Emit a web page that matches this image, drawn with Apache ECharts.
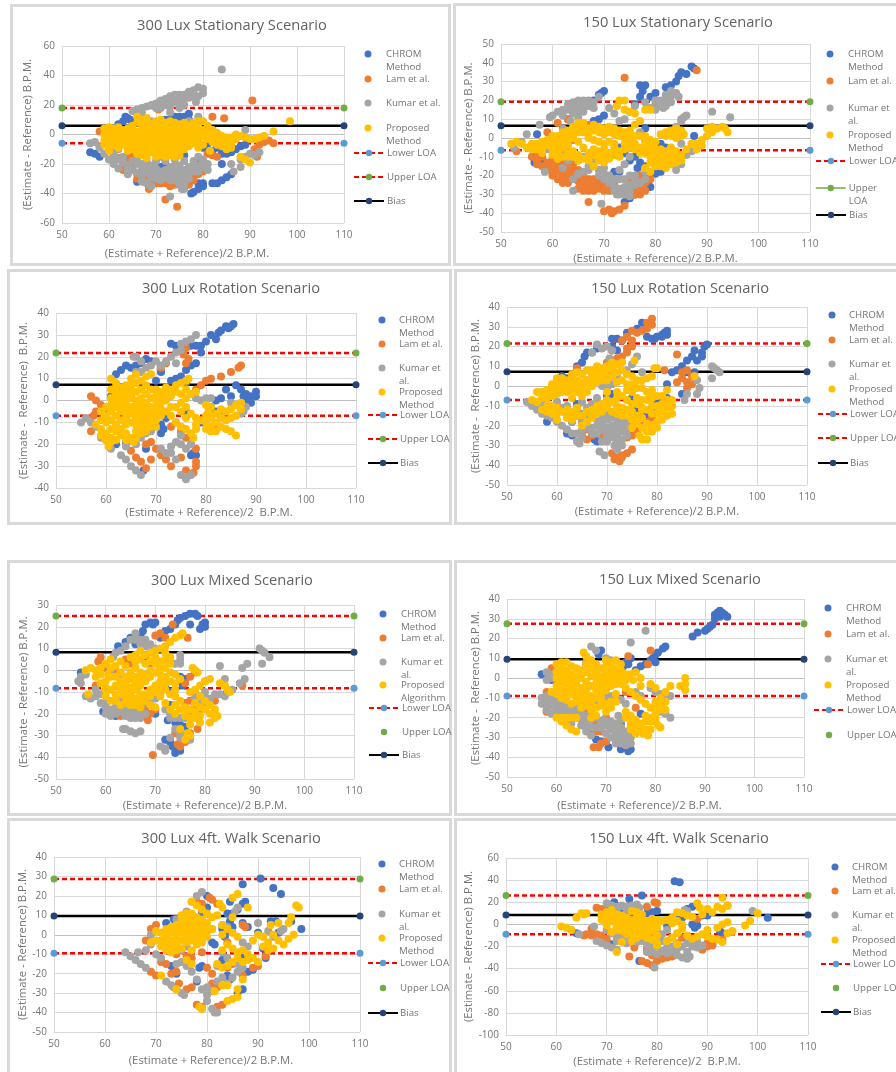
<!DOCTYPE html>
<html>
<head>
<meta charset="utf-8">
<title>Bland-Altman plots</title>
<script src="https://cdn.jsdelivr.net/npm/echarts@6/dist/echarts.min.js"></script>
<style>
  html, body { margin: 0; padding: 0; background: #fff; }
  #chart { width: 896px; height: 1072px; filter: blur(0.5px); }
</style>
</head>
<body>
<div id="chart"></div>
<script>
// values, [(est+ref)/2, est-ref]
const p1Chrom = [[63.5,12],[64,11],[64.5,10],[63,9],[62,7],[56,-12],[57,-13],[58,-15],[77.5,-40],[78,-39],[79,-37],[80,-35],[79,-33],[80,-33],[82,-33],[83,-33],[84,-31],[85,-29],[86,-27],[84,-20],[82,3],[88,-8],[89,-7],[87,-10],[86,-12],[85,-13],[84,-13],[83,-9],[74,12],[75,12],[76,12],[77,14],[73,10],[72,10],[71,-22],[72,-20],[66,-32],[65,-20],[76,-14],[76,-5],[79,-18],[78,-22],[81,-6],[80,-9],[75,10],[74,10],[76,9],[77,10],[78,8],[79,9],[81,-10],[82,-11],[84,-9],[85,-9]];
const p1Lam = [[90.5,23],[82,12],[84.5,11],[70.5,17],[58,2],[58,-8],[72,-44],[74.5,-49],[68.5,-37],[66,-30],[67,-31],[68,-32],[69,-33],[70,-33],[71,-33],[72,-33],[73,-35],[74,-34],[75,-33],[77,-34],[78,-31],[62,-16],[64,-18],[65,-20],[64,-14],[65,-12],[63,-20],[82,-14],[83,-15],[81,-13],[80,-25],[92,-7],[93,-5],[94,-4],[95,-6],[91,-10],[91.5,-15],[75,-12],[78,-3],[63,-17],[64,-22],[65,-16],[66,-19],[63,-24],[65,-23],[68,-29],[69,-30],[70,-30],[71,-31],[72,-31],[74,-31],[66,-27],[79,-27],[78,-28]];
const p1Kumar = [[84,44],[65,16],[66,17],[67,18],[68,19],[69,20],[70,21],[71,23],[72,24],[73,26],[74,27],[75,27],[76,27],[74,22],[75,24],[76,20],[75,18],[77,29],[78,30],[79,32],[80,31],[80,28],[79,26],[78.5,22],[71,18],[73,15],[77,9],[79,12],[68,11],[69,9],[56,-6],[57,-5],[58,-9],[59,-13],[60,-17],[61,-20],[62,-23],[64,-27],[63,-15],[61,-12],[62,-10],[66,-16],[65,-24],[66,-26],[67,-28],[68,-33],[69,-35],[69,-25],[70,-27],[71,-28],[72,-29],[73,-42],[72,-24],[74,-26],[75,-30],[75.5,-37],[76,-33],[76,-24],[77,-22],[78,-25],[79,-21],[80,-22],[81,-20],[79,-15],[80,-17],[86,-20],[86.5,-25],[88,-17],[89,-15],[90,-13],[91,-14],[92,-12],[89,3],[88,-22],[71,-15],[66,-20],[68,-22],[64,-21],[60,-10],[61,-15],[62,-17],[63,-19],[64,-24],[65,-18],[67,-20],[67,-24],[68,-26],[68,-18],[69,-21],[70,-18],[70,-23],[71,-25],[72,-18],[73,-22],[73,-27],[73,-31],[74,-21],[74,-31],[75,-21],[75,-26],[76,-28],[77,-26],[77,-30],[78,-20],[79,-25],[80,-19],[81,-24],[71,-31],[70,-30],[69,-29],[67,-32],[76,-37],[75,-34],[78,-18],[76,-18],[74,-17],[72,-15],[72,20],[73,22],[74,25],[75,21],[76,24],[77,25],[78,26],[73,19],[71,20],[70,18],[67,15],[66,14]];
const p1Prop = [[59,4],[60,5],[61,4],[62,5],[63,3],[64,4],[65,6],[66,12],[67,10],[68,8],[69,7],[70,9],[71,10],[72,8],[73,6],[74,5],[75,7],[76,5],[77,6],[78,6],[79,5],[80,9],[81,6],[59,0],[60,0],[61,-1],[62,0],[63,-1],[64,0],[65,1],[66,2],[67,3],[68,3],[69,2],[70,4],[71,5],[72,3],[73,2],[74,3],[75,2],[76,1],[77,1],[78,2],[79,0],[59,-4],[60,-5],[61,-4],[62,-5],[63,-4],[64,-5],[65,-3],[66,-3],[67,-2],[68,-2],[69,-3],[70,-1],[71,-1],[72,-2],[73,-3],[74,-2],[75,-3],[76,-4],[60,-8],[62,-9],[64,-8],[65,-7],[66,-7],[67,-7],[68,-7],[69,-8],[70,-6],[71,-6],[72,-7],[73,-7],[74,-7],[75,-8],[68,-11],[69,-12],[70,-12],[71,-11],[72,-12],[73,-11],[74,-12],[68,-16],[77,-8],[81.5,-11],[88,-15],[89,-17],[90,-19],[93,-1],[92,-2],[91,-3],[90,-3],[89,-2],[88,-1],[87,0],[86,-2],[85,-5],[84,-8],[85,-10],[83,-3],[82,-1],[81,3],[79,-4],[80,-7],[95,2],[98.5,9],[66,8],[67,7],[68,11],[69,6],[70,7],[71,8],[72,6],[73,9],[74,8],[75,4],[76,8],[77,3],[78,8],[79,8],[64,2],[62,2],[60,2],[63,-7],[61,-7],[59,-7],[60,-11],[64,-11],[65,-10],[66,-10],[67,-11],[66,-13],[67,-14],[70,-15],[71,-14],[72,-15],[73,-14],[74,-15],[75,-14],[76,-10],[75,-11],[77,-4],[78,-2],[78,-6],[79,-9],[81,0],[82,3],[83,1],[84,-3],[84,-1],[85,-2],[86,-6],[86,-9],[87,-3],[83,-7],[82,-5],[81,-3],[80,-1],[80,3],[79,9],[77,-1],[74,-10],[76,-7],[61,1],[63,1],[65,-1],[67,0],[69,0],[71,1],[73,0],[75,0],[62,-2],[64,-2],[66,-1],[68,-4],[70,-3],[72,-4],[74,-4],[60,-2],[62,-7],[66,-5],[68,-9],[70,-9],[72,-9]];

const p2Chrom = [[87,38],[87.5,37],[85,35],[86,34],[84.5,33],[84,30],[83,28],[82,27],[82.5,23],[77,28],[78,28],[77.5,25],[77,22],[76,18],[79,22],[80,24],[70,25],[69.5,24],[69,23],[68,20],[67.5,17],[65,13],[63,10],[69,10],[70,12],[68,9],[57,2],[56.5,-13],[58,-12],[64,-20],[65,-18],[72,-18],[73,-18],[74,-34],[75,-32],[76,-30],[79,-26],[76,-10],[77,-13],[78,-15],[76.5,-16],[75,-12],[87.5,1],[81,-3],[82,-5],[81,-18],[80,-19],[78,5],[73,-5],[74,-8]];
const p2Lam = [[88,36],[74,32],[67,-34],[70,-39],[71,-38],[71.5,-40],[72,-39],[73,-38],[74,-36],[53,-7],[56,-10],[57,-14],[58,-15],[59,-17],[60,-20],[61,-22],[62,-24],[63,-23],[60,-16],[62,-19],[57,-9],[65,-23],[66,-24],[66,-28],[67,-26],[68,-28],[69,-27],[70,-28],[71,-25],[67,-22],[69,-23],[64,-17],[63,-13],[61,-10],[75,-26],[76,-27],[77,-30],[76,-22],[77,-20],[78,-24],[78,-19],[61,8],[64,-1],[59,3],[63,10],[67,7],[80,18],[68,5],[57,-12],[58,-10],[59,-13],[60,-12],[61,-15],[61,-18],[62,-13],[63,-17],[63,-20],[64,-14],[64,-20],[65,-17],[65,-27],[66,-20],[67,-28],[68,-25],[69,-25],[70,-25],[70,-22],[71,-28],[68,-22],[72,-25],[77,-26],[78,-28],[76,-30],[75,-23],[78,-22],[79,-22],[63,-24],[62,-21]];
const p2Kumar = [[91,14],[94.5,11],[57.5,7],[59.5,11],[60,12],[61,14],[62,15],[64,-28],[69.5,-35],[52.5,-5],[55,2],[54,-2],[63,18],[64,16],[65,20],[64,13],[65,15],[66,17],[67,20],[68,19],[69,22],[63.5,9],[62,5],[71,16],[72,13],[73,9],[74,10],[75,14],[76,17],[78,19],[79,16],[80,17],[81,20],[82,23],[83,25],[84,24],[84.5,22],[83,19],[81.5,16],[80,15],[84,6],[85,9],[85.5,11],[86,12],[85,10],[86,-9],[87,-7],[85,-3],[58,-5],[60,-7],[62,-8],[63,-12],[62,-16],[58.5,-18],[64,-22],[65,-19],[67,-15],[68,-12],[69,-8],[70,-16],[69,-20],[70,-22],[71,-24],[72,-26],[72.5,-30],[73,-27],[74,-30],[75,-28],[74,-22],[75,-20],[76,-25],[73,-17],[74,-14],[75,-10],[76,-20],[78,-22],[84,-17],[85,-14],[79,-4],[78,-1],[77,3],[66,-10],[65,-12],[64,-10],[67,-9],[66,-18],[67,-17],[68,-15],[69,-17],[70,-19],[71,-20],[72,-22],[73,-22],[74,-26],[72,-28],[73,-30],[74,-27],[75,-25],[75,-31],[76,-22],[77,-24],[78,-18],[65,18],[66,20],[67,17],[68,16],[64,19],[63,15],[62,12],[65,11],[66,14],[61,-6],[59,-6],[83,22],[82,20],[81,17],[80,20],[82,17]];
const p2Prop = [[73,20],[74,20],[72.5,17],[74,15],[75,14],[76,13],[78,15],[79,15],[77,9],[76,7],[75,4],[52,-3],[53,-2],[54,-3],[55,-5],[56,-6],[57,-6],[58,-5],[59,-4],[60,-3],[61,-2],[62,-1],[63,1],[64,3],[65,6],[66,8],[67,5],[68,4],[69,3],[70,2],[71,3],[72,2],[73,1],[74,3],[61,-7],[62,-5],[63,-4],[64,-7],[65,-2],[66,3],[67,0],[68,-1],[69,-2],[70,-3],[71,-2],[72,-3],[64,0],[65,-9],[66,-5],[67,-8],[68,-6],[69,-7],[70,-6],[71,-8],[68,-15],[69,-12],[70,-10],[72,-5],[73,-7],[74,-3],[75,-1],[77,-5],[78,-8],[79,-10],[80,-10],[81,-12],[82,-13],[83,-11],[84,-10],[85,-9],[78,-16],[79,-18],[80,-15],[81,-9],[82,-7],[83,-5],[81,2],[82,3],[83,4],[84,5],[85,4],[85.5,2],[84,3],[86,-6],[87,-3],[88,-3],[89,-1],[90,1],[91,3],[92,5],[93,6],[93.5,5],[94,3],[90,5],[91,6],[88,-6],[89,-4],[58,-8],[60,-9],[61,-11],[62,-10],[63,-8],[63,-10],[64,-10],[65,-12],[66,-11],[67,-12],[68,-9],[69,-10],[70,-13],[71,-11],[72,-9],[73,-10],[74,-6],[75,-5],[76,-3],[65,3],[66,5],[67,2],[68,7],[69,6],[70,5],[71,6],[72,5],[73,4],[74,0],[75,1],[76,1],[77,1],[78,-2],[79,-4],[80,-6],[81,-6],[82,-10],[83,-8],[84,-7],[78,-5],[79,-7],[80,-13],[79,-13],[77,-8],[76,-6],[82,-16],[81,-15],[83,-14],[84,-13],[85,-12],[80,-2],[79,-1],[78,1],[59,-1],[60,1],[61,1],[62,3],[63,4],[64,6],[65,8],[63,-1],[61,-4],[60,-6],[57,-3],[56,-3],[58,-2],[62,-4],[85,1],[84,0],[83,1],[82,1]];

const p3Chrom = [[73,26],[74,25],[75,24],[76,25],[77,25],[78,25],[79,25],[79,22],[80,27],[81,30],[82,28],[82.5,31],[83,32],[84,34],[84.5,33],[85,34],[85.5,35],[62,12],[63,14],[64,16],[65,15],[66,16],[67,17],[68,19],[69,18],[71,13],[70,9],[73,9],[74,10],[75,11],[76,14],[77,16],[78,17],[76,8],[86,7],[87,5],[88,3],[87.5,2],[88.5,0],[89,2],[90,4],[90,2],[89,-1],[85,2],[84,5],[83,1],[82,0],[81,-3],[82,-5],[79,-10],[71,-15],[71,-11],[72,-8],[71.5,-13],[70,-7],[77.5,-24],[78,-25],[77,-25],[76,-5],[68,-22],[67.5,-32],[62,-20],[64,-19],[61,2],[72,3]];
const p3Lam = [[87,16],[86.5,15],[85,13],[83,11],[81,10],[80,9],[79,7],[78,5],[77,3],[76,24],[76.5,19],[76,17],[75.5,21],[73,-30],[72,-27],[71,-25],[70,-22],[69,-19],[71,15],[72,17],[57,2],[58,0],[59,-2],[60,-4],[58,-5],[57.5,-7],[57,-14],[61,1],[65,-23],[66,-26],[67,-28],[68,-31],[69,-27],[68,-20],[75,-26],[78,-28],[78,-30],[77.5,-33],[76,-32],[74,-10],[73,-12],[75,-14],[76,-17],[77,-20],[78,-22],[81,-14],[82,-12],[64,-7],[65,2]];
const p3Kumar = [[78,30],[77,28],[76,27],[75,26],[75,23],[74,22],[74,17],[73,20],[72,18],[71,16],[70,18],[69,16],[68,15],[66,20],[65.5,20],[67,18],[66,13],[67,13],[55,-10],[56,-8],[57,-10],[58,-12],[59,-17],[60,-18],[61,-22],[63,-25],[64,-27],[65,-30],[66,-32],[67,-34],[64,-21],[65,-18],[66,-20],[68,-15],[69,-14],[67,-17],[71,-22],[72,-24],[73,-24],[74,-27],[73,-21],[74,-19],[75,-16],[75,-20],[76,-22],[77,-20],[75,-34],[76,-35],[76,-36],[77,-34],[78,1],[79,0],[80,1],[81,1],[85,-1],[86,-2],[87,-6],[88,-3],[87.5,-5],[83,-7]];
const p3Prop = [[61,10],[62,8],[63,6],[64,4],[65,10],[66,12],[67,9],[68,11],[69,12],[68,7],[67,5],[58,-11],[59,-9],[60,-7],[61,-5],[62,-3],[62,3],[63,0],[64,-2],[65,1],[66,0],[67,-2],[68,-4],[69,1],[70,2],[71,4],[72,3],[73,5],[74,7],[75,8],[76,9],[76.5,10],[60,-15],[60,-18],[60.5,-21],[61,-13],[62,-11],[63,-9],[64,-8],[65,-6],[66,-5],[67,-8],[68,-9],[69,-6],[70,-3],[71,-1],[62,-14],[63,-13],[64,-15],[65,-17],[65.5,-19],[66,-11],[67,-13],[68,-14],[72,-5],[73,-7],[74,-10],[75,-12],[76,-13],[77,-15],[77.5,-17],[78,-13],[74,-3],[75,-1],[76,1],[77,3],[78,4],[80,-2],[80.5,-5],[81,-8],[82,-10],[83,-12],[84,-13],[85,-14],[86,-16],[82,-6],[83,-8],[84,-5],[85,-4],[86,-2],[87,-1],[87,-4],[80,-10],[81,-12],[82,-14],[60,-10],[63,3],[64,7],[59,-5],[60,-3],[61,-9],[61,-2],[61,1],[61,5],[62,-7],[62,0],[62,6],[63,-5],[63,-16],[63,-2],[64,-11],[64,-5],[64,1],[65,-10],[65,-3],[65,4],[65,7],[66,-8],[66,-14],[66,-2],[66,4],[66,8],[67,-11],[67,-5],[67,1],[68,-12],[68,-7],[68,-1],[68,3],[69,-9],[69,-3],[69,5],[70,-6],[70,0],[70,5],[71,-4],[71,1],[72,0],[73,2],[59,-13],[59,-16],[61,-17],[61,-19],[62,-18],[64,-18],[66,-17],[67,-15],[69,-12],[70,-9],[70,-12],[71,-7],[72,6],[73,-3],[74,4],[75,3],[76,5],[75,-5],[76,-3],[76,-8],[77,-6],[78,-8],[78,-11],[79,-9],[80,-7],[81,-3],[83,-4],[84,-9],[85,-8],[86,-7],[81,-14],[80,-13]];

const p4Chrom = [[77,32],[78,31],[74,27],[76,29],[79,24],[78,25],[79.5,24],[80,25],[81,26],[82,26],[82,28],[81.5,27],[81,25],[72,24],[71,24],[73,23],[71,20],[72,18],[65,12],[64,10],[65.5,15],[66,17],[67,17],[68,19],[61,5],[62,4],[63,4],[84,8],[83,7],[85,10],[86,13],[87,15],[87.5,18],[88,13],[89,17],[89.5,20],[90,21],[89,15],[86,7],[87.5,7],[85,-4],[82,1],[70,-5],[71,-4],[75,-6],[76,-12],[77,-14],[78,-15],[79,-11],[67.5,-27],[68,-28],[62,-24],[63,-25],[63,-18],[58,-18],[66,-14],[64,-9],[80,-7],[82,-6]];
const p4Lam = [[79,34],[78,32],[79,31],[77,28],[78,29],[76,27],[75,28],[74,25],[73,23],[75,23],[75,20],[74,19],[74,17],[73,15],[72,14],[71,18],[70,12],[84,16],[85,7],[86,8],[85,4],[86,2],[87,1],[87,5],[84,2],[86,-1],[81.5,8],[71,-34],[72,-36],[72.5,-38],[73,-36],[74,-34],[75,-32],[71.5,-37],[73,-35],[65,-18],[66,-22],[66,-27],[67,-25],[65,-25],[68,-10],[64,-15],[69,-25],[70,-24],[74,-26],[75,-25],[76,-22],[77,-20],[78,-18],[79,-16],[64,9],[63,5]];
const p4Kumar = [[91,10],[91.5,9],[92,8],[92.5,7],[91,4],[88,3],[88,-4],[88.5,-1],[85.5,-7],[86,-4],[68,21],[69,19],[70,20],[71,18],[67,17],[70.5,14],[75,11],[76,15],[77,7],[74,8],[68.5,-33],[69.5,-35],[54,-8],[55,-10],[56,-12],[57,-14],[58,-15],[59,-16],[60,-18],[61,-20],[62,-22],[63,-24],[64,-28],[64.5,-29],[58,-6],[60,-8],[62,-10],[63,-14],[64,-12],[65,-8],[66,-11],[67,-14],[68,-17],[69,-19],[70,-21],[71,-23],[71.5,-30],[72,-32],[73,-27],[73,-23],[70,-17],[71,-26],[72,-19],[73,-20],[69,-28],[70,-28],[68,-24],[65,-19],[66,-16],[74,-22],[75,-17],[67,-21],[83,-10],[69,0],[70,4],[71,1],[66,3],[66,-21],[67,-24],[68,-20],[69,-16],[70,-14],[71,-16],[72,-16],[72,-22],[72,-25],[71,-20],[72,-28],[70,-25],[69,-22],[73,-17],[74,-25],[74,-18],[75,-20],[73,-30],[64,-24],[65,-22],[65,-26],[63,-18],[62,-14],[61,-11],[60,-12],[59,-12],[57,-9],[56,-8],[65,-14],[67,-9],[68,-6],[70,-1],[69,5],[71,7],[72,5]];
const p4Prop = [[55,-7],[56,-3],[57,-6],[58,-2],[59,-5],[60,-1],[61,1],[60,3],[60,4],[62,0],[63,-2],[64,-3],[65,-2],[64,3],[65,6],[66,8],[67,6],[68,8],[69,9],[70,7],[71,9],[72,11],[73,12],[72,7],[74,6],[75,5],[76,3],[77,3],[78,4],[79,5],[80,9],[64,7],[65,2],[66,0],[57,-12],[58,-10],[59,-14],[60,-17],[60,-14],[62,-12],[63,-13],[64,-15],[65,-20],[66,-13],[67,-12],[68,-14],[69,-9],[70,-7],[71,-8],[72,-10],[73,-15],[74,-12],[75,-9],[76,-6],[77,-7],[78,-3],[79,-2],[80,-5],[81,-9],[82,-11],[82,-15],[83,-14],[81,-17],[80,-18],[79,-20],[78,-23],[77,-27],[76.5,-25],[76,-19],[75,-21],[75,-13],[73,-5],[74,-2],[72,-3],[71,-13],[70,-11],[75.5,13],[79.5,9],[87.5,5],[83,-7],[82,-2],[78,-12],[79,-14],[77,-16],[56,-8],[57,-3],[58,-6],[59,-1],[59,1],[60,-4],[61,-3],[61,4],[62,3],[62,-3],[63,2],[63,6],[63,-6],[64,0],[65,-5],[66,3],[66,-3],[67,3],[67,8],[67,0],[68,5],[68,10],[68,2],[69,6],[69,3],[70,10],[70,3],[71,5],[71,12],[72,2],[73,8],[73,3],[74,1],[75,1],[75,-3],[76,-1],[76,-9],[77,-1],[77,-11],[78,-7],[79,-6],[79,-10],[80,-10],[80,-14],[81,-13],[81,-5],[82,-7],[83,-10],[74,-7],[74,-15],[73,-11],[72,-6],[72,-14],[70,-3],[69,-13],[68,-10],[67,-16],[66,-18],[65,-15],[64,-11],[63,-17],[62,-16],[61,-13],[60,-11],[59,-10],[58,-13],[75,-17],[76,-15],[77,-21],[78,-19],[78,-27],[79,-23],[80,-21],[77,-12]];

const p5Chrom = [[77,26],[78,26],[76,25],[78.5,25],[75,24],[74.5,23],[74,21],[73,19],[72,18],[71,15],[70,22],[69,22],[68,21],[69.5,21],[67.5,18],[67,16],[77,21],[79,19],[80,22],[80,20],[79.5,21],[65,15],[64,13],[62.5,11],[66,12],[55,-1],[68,6],[69,3],[75,-3],[76,-4],[75.5,-7],[59.5,-19],[62,-21],[72,-8],[73,-10],[73,-16],[72.5,-23],[74,-24],[75,-25],[76,-26],[72,-32],[73,-33],[74,-36],[74,-38],[75,-37],[73.5,-35],[84,-11],[70,-20]];
const p5Lam = [[73.5,21],[71,17],[70,16],[72,15],[76.5,15],[58.5,4],[59,6],[69.5,-39],[78,-1],[77,-3],[76,-6],[87.5,-7],[58,-7],[60,1],[62,0],[61,-20],[63,-21],[67,-18],[68,-18],[69,-20],[68.5,-23],[70,-18],[76,-15],[77,-14],[78,-17],[78.5,-27],[77,-29],[76,-33],[75,-35],[74.5,-34],[74,-29],[82,-14],[79,-18],[65,3],[64,5],[66,-20],[67,-21],[68,-21],[77,-20],[76,-18],[78,-13],[79,-14]];
const p5Kumar = [[91,10],[91.5,9],[92,8],[93,6],[91.5,3],[87.5,1],[88.5,3],[83,2],[84,-4],[87,-6],[88,-4],[84,-12],[85.5,-9],[82,-11],[83,-11],[66,17],[65,14],[68,14],[69,12],[70,10],[63,9],[62,8],[61.5,6],[75,7],[75,5],[74,3],[75,3],[55,-3],[54.5,-5],[55,-6],[56,-2],[56,-12],[57,-13],[58,-9],[59,-11],[60,-15],[60,-20],[61,-21],[62,-17],[63,-14],[64,-15],[65,-20],[66,-22],[64,-27],[65,-28],[66,-29],[67,-28],[63.5,-27],[67,-19],[68,-15],[69,-14],[70,-13],[71,-11],[71,-35],[72,-36],[72,-37],[73,-31],[75,-29],[74,-22],[73,-20],[72,-18],[80,-10],[79,-12],[80,-5],[80,-13],[76,-22],[77,-32],[78,-10],[61,0],[63,-2],[60,-17],[61,-18],[62,-20],[63,-19],[64,-18],[65,-22],[66,-19],[67,-22],[68,-20],[65,-17],[64,-21],[58,-12],[59,-15],[63,-11],[75,-22],[74,-27],[75,-31],[73,-22],[78,-13],[80,-17],[79,-15],[81,-13],[64,11],[67,14],[67,12],[69,9],[68,11],[66,14]];
const p5Prop = [[56,0],[57,1],[56.5,-11],[58,0],[59,1],[60,3],[61,5],[60.5,-2],[59,-6],[60,-5],[61,-9],[62,-7],[63,-5],[64,-3],[65,-1],[66,1],[64,2],[65,6],[66,7],[67,9],[68,7],[69,8],[70,9],[71,10],[72,11],[73,13],[74,15],[75,16],[75.5,17],[60,-12],[61,-14],[62,-14],[63,-11],[64,-10],[65,-8],[66,-6],[67,-4],[68,-2],[69,0],[70,3],[71,4],[72,5],[73,6],[72.5,4],[64,-15],[65,-13],[66,-16],[67,-14],[68,-11],[69,-9],[70,-7],[71,-12],[72,-15],[70,-17],[71,-5],[72,-3],[73,-1],[74,-6],[75,-4],[77.5,1],[78,0],[78.5,-1],[83,-6],[84,-7],[84.5,-9],[85,-10],[74,-16],[73,-18],[74,-20],[75,-14],[76,-17],[77,-18],[78,-15],[79,-12],[78,-9],[79,-7],[80,-5],[81,-4],[77,-10],[80,-18],[81,-20],[82,-22],[82.5,-21],[81,-24],[79,-21],[78,-22],[77,-25],[76.5,-29],[76,-32],[77,-30],[75,-27],[58,-3],[59,-2],[60,-9],[61,-3],[61,1],[62,-11],[62,-3],[62,2],[63,-8],[63,-1],[63,4],[64,-7],[64,-12],[65,-4],[65,-11],[66,-3],[66,-9],[66,4],[67,-11],[67,-7],[67,-1],[67,5],[68,-5],[68,-14],[68,3],[69,-3],[69,-12],[69,4],[70,-10],[70,-1],[70,6],[71,-8],[71,-2],[71,1],[72,-9],[72,-6],[72,1],[72,8],[73,-5],[73,3],[73,-11],[74,-2],[74,-12],[74,-9],[66,-13],[65,-16],[64,-6],[60,-8],[63,-16],[67,-17],[69,-16],[75,-18],[76,-21],[78,-19],[79,-17],[80,-14],[81,-16],[82,-18],[77,-22],[76,-20],[79,-24]];

const p6Chrom = [[93,34],[92.5,33],[92,32],[93,31],[94,32],[94.5,31],[92,30],[93.5,33],[91.5,27],[91,26],[90.5,25],[90,24],[88.5,23],[87.5,21],[82,16],[81.5,15],[80.5,13],[80,12],[79.5,10],[80,8],[79,9],[78,7],[77,6],[76,4],[75,10],[74.5,7],[74,8],[73.5,6],[69,14],[68.5,12],[57,2],[58,0],[59,-1],[66,7],[67,-28],[68,-31],[69,-32],[70.5,-35],[73,-36],[74,-35],[74.5,-37],[75,-36],[73,-23],[77,-18],[68,3]];
const p6Lam = [[74.5,11],[79,14],[78.5,7],[59,5],[60,-1],[58,-7],[59,-8],[58,-17],[67.5,-35],[68.5,-35],[69,-33],[70,-32],[68,-23],[68,-27],[69,-27],[70,-20],[74,-7],[76,-15],[77,-9],[76,-8],[75,-25],[73,-25],[64,-13],[65,-14],[66,-16],[61,3]];
const p6Kumar = [[78,24],[75,18],[67,16],[68,14],[66,8],[58,3],[59,2],[70,10],[71,9],[57,-10],[58,-12],[59,-14],[60,-13],[61,-15],[62,-16],[63,-17],[64,-16],[58,-16],[59,-18],[60,-19],[62,-21],[63,-23],[64,-20],[65,-24],[66,-27],[67,-29],[65,-21],[66,-22],[67,-17],[68,-12],[69,-11],[70,-10],[71,-9],[72,-10],[73,-11],[74,-13],[72.5,-19],[69,-25],[70,-24],[71,-26],[72,-28],[73,-30],[74,-32],[75,-33],[75,-30],[71,-22],[72,-33],[69.5,-21],[74,-27],[76,-7],[77,-9],[79,-5],[80,-7],[81,-8],[82,-8],[83,-9],[81,-17],[82,-18],[83,-20],[62,-9],[60,-8],[64,-7],[73,-25],[58,-9],[58,-14],[59,-11],[60,-11],[60,-16],[61,-13],[61,-18],[62,-14],[62,-19],[63,-14],[63,-19],[64,-18],[65,-16],[65,-19],[66,-25],[67,-25],[68,-20],[70,-22],[70,-28],[71,-24],[71,-30],[72,-26],[72,-31],[73,-27],[73,-33],[74,-29],[74,-34],[75,-28],[69,-22],[68,-25],[72,-23],[73,-21],[66,-19],[67,-21],[58,-1],[59,0],[57,-13]];
const p6Prop = [[65.5,13],[66,11],[67,9],[68,7],[69,5],[70,3],[71,1],[72,-1],[73,-3],[74,-5],[75,-7],[76,-9],[77,-11],[78,-13],[79,-15],[60,7],[61,8],[62,8],[63,6],[64,5],[65,4],[66,3],[67,1],[68,0],[69,-2],[60,3],[61,2],[62,0],[63,-1],[64,-3],[65,-5],[66,-2],[67,-4],[68,-6],[69,-8],[70,-6],[71,-4],[72,-3],[59,-7],[60,-8],[61,-6],[62,-7],[63,-8],[64,-10],[65,-11],[66,-12],[67,-13],[68,-15],[69,-14],[70,-17],[71,-12],[72,-8],[70,9],[71,8],[72,9],[71,6],[72,5],[73,4],[74,2],[75,2],[76,3],[77,0],[75.5,-1],[60,-20],[61,-20],[62,-20],[63,-20],[64,-20],[61,-22],[62,-24],[63,-26],[64,-27],[68,-19],[67,-20],[86,0],[86,-3],[86,-6],[85,-4],[83,-4],[82,-7],[79,-3],[80,-5],[81,-10],[80,-12],[81,-16],[82,-16],[80,-18],[79,-20],[78,-22],[77.5,-28],[78.5,-29],[77,-26],[76,-28],[75,-26],[74,-20],[75,-22],[76,-24],[80.5,-24],[81,-25],[80,-22],[77,-4],[75,-19],[60,0],[61,-2],[61,5],[62,4],[63,2],[64,1],[65,0],[66,7],[67,5],[68,3],[69,1],[70,0],[60,-4],[61,-10],[62,-3],[62,-11],[63,-5],[63,-13],[64,-7],[65,-8],[65,-15],[66,-6],[66,-9],[67,-9],[67,-16],[68,-3],[68,-10],[69,-5],[69,-11],[70,-3],[70,-13],[71,-1],[71,-15],[72,-12],[73,1],[73,7],[72,2],[71,4],[70,6],[74,-1],[78,-19],[79,-22],[80,-20],[81,-12],[81,-14],[82,-12],[80,-15],[77,-23],[76,-21],[75,-24],[78,-26],[79,-26],[74,-17],[64,-12],[66,-14]];

const p7Chrom = [[90.5,29],[93,24],[94.5,21],[87,26],[87.5,17],[87,16],[84.5,17],[86,13],[85,11],[84,11],[84.5,7],[85,4],[87,6],[88,4],[90,1],[92.5,7],[93.5,7],[94,1],[98.5,3],[96.5,7],[80,20],[80,14],[79,12],[77,10],[75,9],[73.5,8],[72,6],[76,0],[83,3],[83.5,-1],[84,2],[81,-4],[81.5,-5],[91,-7],[91.5,-12],[89,-18],[88,-19],[87,-28],[86,-30],[84.5,-23],[84,-21],[83,-13],[78.5,-17],[79,-16],[78,-24],[73,-16],[74,-20],[87,-12]];
const p7Lam = [[80.5,19],[81,18],[82,16],[78,17],[79,16],[87,5],[87.5,4],[69,3],[70,5],[68,-3],[69,-4],[71,-14],[72,-15],[73,-20],[74,-19],[74.5,-25],[73.5,-27],[76,-28],[77,-27],[69,-19],[70,-21],[78,-36],[79,-37],[81,-20],[80,-17],[82,-27],[81,-25],[82,-37],[83,-36],[84,-4],[87,-21],[89,-17],[90,-16],[91.5,-11],[79,-9],[74,-10],[76,-11],[77,-12],[85,-15],[84,-17]];
const p7Kumar = [[79,22],[78,20],[77,17],[76,12],[74,8],[75,6],[77,5],[79,4],[81,3],[83,5],[84,4],[86,14],[85.5,12],[90,6],[92,2],[93,-1],[95,3],[94.5,2],[91,-1],[64,-9],[65,-11],[66,-13],[67,-15],[68,-17],[66.5,-9],[68,-8],[69,0],[69,-5],[70,-10],[71,-12],[72,-5],[73,-9],[74,-15],[75,-14],[76,-16],[77,-19],[72,-24],[73,-26],[74,-28],[75,-30],[75.5,-31],[78,-23],[79,-28],[80,-27],[80,-34],[81,-38],[81.5,-40],[82,-40],[79,-38],[80,-31],[81,-29],[82,-24],[83,-22],[84,-25],[82,-16],[83,-9],[84,-12],[86,-15],[87,-17],[86,-19],[85,-22],[87,-4],[88,-6],[76,-6],[75,-8]];
const p7Prop = [[69,-4],[70,2],[71,1],[72,-1],[71,-6],[72,-8],[73,-3],[74,-5],[75,-7],[76,-4],[77,-8],[73,4],[74,2],[75,1],[76,3],[77,0],[78,-2],[75,10],[76,8],[77,17],[78,15],[79,13],[80,11],[81,9],[77,7],[78,6],[79,4],[80,2],[82,10],[82.5,16],[83,14],[85,19],[86,21],[85,9],[88,14],[76,-13],[77,-15],[71,-21],[74,-28],[78.5,-37],[79,-38],[81.5,-29],[83,-26],[84,-26],[84,-34],[85,-33],[86,-32],[86,-28],[87,-23],[83,-17],[82,-15],[84,-16],[85,-14],[83,0],[83,5],[84,3],[85,1],[86,-1],[83,-8],[84,-5],[85,-7],[86,-9],[87,-8],[88,-10],[89,-12],[90,-14],[86,-12],[87,-14],[88,-13],[89,-3],[90,0],[91,-1],[92,-4],[91,-6],[92,-8],[93,-7],[92.5,5],[94,6],[94,-3],[95,-5],[96,-2],[97,0],[96,6],[96.5,9],[97.5,15],[98,14],[93,0],[70,-3],[71,-3],[72,3],[73,1],[73,-6],[74,5],[74,-2],[75,-3],[75,4],[76,6],[76,-1],[77,3],[77,-3],[78,2],[78,9],[78,-5],[79,0],[79,8],[79,-4],[80,6],[80,-1],[81,3],[76,11],[77,11],[75,7],[72,-3],[74,-8],[73,-9],[72,-5]];

const p8Chrom = [[83.5,39],[84.5,38],[77,26],[74.5,23],[71.5,20],[102,6],[80,12],[79,11],[78,10],[72,11],[73,10],[69,8],[64,-8],[88,-1],[87,0],[87.5,-3],[89,8],[90,8],[92.5,-6],[93,-8],[91,-18],[71,-18],[76.5,-33],[86,14],[87,16],[84,5],[85,6],[82,-1],[74,7],[75,6]];
const p8Lam = [[68,15],[69,14],[70,13],[71,10],[79.5,20],[80,19],[78,16],[94,17],[88,5],[67,-4],[66,-9],[67,-10],[68,-9],[65.5,-10],[69,-10],[70,-13],[74.5,-29],[75.5,-21],[77,-33],[78,-35],[79,-37],[80,-33],[81,-31],[82,-30],[83,-29],[78,-22],[79,-15],[79,-28],[89,-23],[90,-20],[91,-19],[90,-17],[93,-14],[70,-17],[75,-14],[84,-17],[85,-12]];
const p8Kumar = [[99,12],[64.5,-9],[67.5,-2],[68,-15],[69,-17],[70,-19],[71,-21],[72,-23],[70,19],[71,17],[72,16],[73,17],[74,16],[75,17],[76,18],[76.5,15],[70,-5],[71,-8],[72,-11],[73,-14],[74,-17],[75,-7],[76,-10],[77,-15],[78,-18],[79,-25],[80,-27],[79.5,-39],[81,-24],[82,-21],[83,-25],[84,-28],[85,-30],[86,-31],[86.5,-29],[85,-20],[86,-17],[87,-14],[88,-21],[89,-19],[81,-9],[82,-5],[83,-12],[80,-7],[85.5,13],[86,12],[83,4],[72,2],[73,3],[70,10],[72,12],[74,11],[76,10],[72,-15],[74,-10],[76,-16],[78,-25],[80,-20],[81,-15],[82,-26],[83,-20],[84,-22],[86,-25],[87,-20],[88,-16],[78,-8],[79,-20]];
const p8Prop = [[61,-2],[62,-3],[63,-5],[64,6],[65,10],[65.5,9],[66,10],[69,9],[69.5,6],[70,11],[71,7],[70,2],[71,13],[72,9],[73,4],[74,2],[71,-7],[72,-5],[73,-3],[74,-1],[75,0],[76,2],[77,4],[78,3],[79,5],[80,4],[73,-16],[72,-25],[75,-15],[76,-12],[75,-5],[76,-3],[77,-1],[78,-4],[79,-6],[80,-10],[74,-9],[75,12],[76,11],[77,9],[79,-14],[80,-17],[80,-19],[82,-15],[83,-12],[83,6],[84,11],[85,10],[86,8],[87,7],[84,3],[85,0],[85,-4],[84,-8],[84,-18],[86,-10],[87,-13],[88,-11],[89,-9],[90,-5],[90,-11],[91,-13],[92,-14],[93,-16],[88,19],[88.5,15],[89,9],[90,14],[91,11],[92,16],[93,24],[93,14],[94,17],[93,0],[94,2],[94,-8],[95,-6],[92,-3],[97.5,-1],[98.5,3],[100,10],[69,4],[70,6],[70,-1],[71,3],[72,0],[72,5],[73,8],[74,6],[75,4],[76,7],[77,0],[78,-1],[78,1],[79,0],[80,-3],[81,3],[82,4],[73,-6],[74,-4],[75,-8],[76,-7],[77,-6],[78,-8],[77,-10],[78,-12],[72,-2],[79,2],[83,1]];

// lower limit, upper limit, bias
const limits = [[-6,18,6],[-6.5,19.3,6.5],[-7,21.7,7.2],[-7,21.5,7.3],[-8.3,25,8.3],[-9,27.5,9.5],[-9.5,28.7,9.7],[-9,26,8.5]];
const titles = ['300 Lux Stationary Scenario','150 Lux Stationary Scenario','300 Lux Rotation Scenario','150 Lux Rotation Scenario','300 Lux Mixed Scenario','150 Lux Mixed Scenario','300 Lux 4ft. Walk Scenario','150 Lux 4ft. Walk Scenario'];
const seriesNames = ['CHROM Method','Lam et al.','Kumar et al.','Proposed Method','Lower LOA','Upper LOA','Bias'];
const scatterData = [
  [p1Chrom,p1Lam,p1Kumar,p1Prop],[p2Chrom,p2Lam,p2Kumar,p2Prop],[p3Chrom,p3Lam,p3Kumar,p3Prop],[p4Chrom,p4Lam,p4Kumar,p4Prop],
  [p5Chrom,p5Lam,p5Kumar,p5Prop],[p6Chrom,p6Lam,p6Kumar,p6Prop],[p7Chrom,p7Lam,p7Kumar,p7Prop],[p8Chrom,p8Lam,p8Kumar,p8Prop]
];

const colors = ['#4472c4','#ed7d31','#a5a5a5','#ffc000','#5b9bd5','#70ad47','#264478'];
const font = '"Open Sans", "Noto Sans", sans-serif';

const panels = [
  { l:62, r:344, t:46, b:223, yMin:-60, yMax:60, yStep:20, tx:232, ty:27, xn:'(Estimate + Reference)/2 B.P.M.', xnY:253, xnOff:-16, yn:'(Estimate - Reference) B.P.M.', ynX:27,
    mx:368, tx2:386, slots:[54,79,103,128,153,177,201], frame:[11.5,5.5,438,259],
    labels:['CHROM\nMethod','Lam et al.','Kumar et al.','Proposed\nMethod','Lower LOA','Upper LOA','Bias'] },
  { l:501, r:810, t:44, b:232, yMin:-50, yMax:50, yStep:10, tx:678, ty:24, xn:'(Estimate + Reference)/2 B.P.M.', xnY:258, xnOff:0, yn:'(Estimate - Reference) B.P.M.', ynX:468,
    mx:830, tx2:848, slots:[54,81,108,135,161,188,215], frame:[454.5,4.5,446,260], upperLine:'solid',
    labels:['CHROM\nMethod','Lam et al.','Kumar et\nal.','Proposed\nMethod','Lower LOA','Upper\nLOA','Bias'] },
  { l:56, r:356, t:313, b:488, yMin:-40, yMax:40, yStep:10, tx:231, ty:290, xn:'(Estimate + Reference)/2  B.P.M.', xnY:512, xnOff:3, yn:'(Estimate -  Reference)  B.P.M.', ynX:23,
    mx:382, tx2:399, slots:[320,344,368,392,415,439,463], frame:[8.5,270.5,442,253],
    labels:['CHROM\nMethod','Lam et al.','Kumar et\nal.','Proposed\nMethod','Lower LOA','Upper LOA','Bias'] },
  { l:507, r:807, t:307, b:485, yMin:-50, yMax:40, yStep:10, tx:680, ty:290, xn:'(Estimate + Reference)/2 B.P.M.', xnY:511, xnOff:0, yn:'(Estimate -  Reference) B.P.M.', ynX:475,
    mx:832, tx2:849, slots:[315,340,364,389,414,438,463], frame:[455.5,270.5,446,253],
    labels:['CHROM\nMethod','Lam et al.','Kumar et\nal.','Proposed\nMethod','Lower LOA','Upper LOA','Bias'] },
  { l:56, r:354, t:605, b:779, yMin:-50, yMax:30, yStep:10, tx:232, ty:582, xn:'(Estimate + Reference)/2 B.P.M.', xnY:805, xnOff:0, yn:'(Estimate - Reference) B.P.M.', ynX:23,
    mx:383, tx2:401, slots:[614,638,662,685,708,732,755], frame:[8.5,561.5,442,253], upperLine:'none',
    labels:['CHROM\nMethod','Lam et al.','Kumar et\nal.','Proposed\nAlgorithm','Lower LOA','Upper LOA','Bias'] },
  { l:507, r:804, t:599, b:777, yMin:-50, yMax:40, yStep:10, tx:680, ty:581, xn:'(Estimate + Reference)/2 B.P.M.', xnY:805, xnOff:-16, yn:'(Estimate -  Reference) B.P.M.', ynX:475,
    mx:828, tx2:846, slots:[608,634,659,685,710,735], frame:[455.5,561.5,446,253], upperLine:'none',
    labels:['CHROM\nMethod','Lam et al.','Kumar et\nal.','Proposed\nMethod','Lower LOA','Upper LOA'] },
  { l:54, r:360, t:857, b:1032, yMin:-50, yMax:40, yStep:10, tx:231, ty:840, xn:'(Estimate + Reference)/2 B.P.M.', xnY:1060, xnOff:4, yn:'(Estimate - Reference) B.P.M.', ynX:22,
    mx:382, tx2:399, slots:[864,889,914,938,963,988,1013], frame:[8.5,819.5,442,270], upperLine:'none',
    labels:['CHROM\nMethod','Lam et al.','Kumar et\nal.','Proposed\nMethod','Lower LOA','Upper LOA','Bias'] },
  { l:506, r:808, t:858, b:1035, yMin:-100, yMax:60, yStep:20, tx:679, ty:840, xn:'(Estimate + Reference)/2  B.P.M.', xnY:1061, xnOff:0, yn:'(Estimate - Reference) B.P.M.', ynX:470,
    mx:835, tx2:852, slots:[867,891,915,940,964,988,1012], frame:[455.5,819.5,446,270], upperLine:'none',
    labels:['CHROM\nMethod','Lam et al.','Kumar et\nal.','Proposed\nMethod','Lower LOA','Upper LOA','Bias'] }
];

const grid = [], xAxis = [], yAxis = [], series = [], title = [], legend = [], graphic = [];
const lineH = 13;

panels.forEach((p, i) => {
  graphic.push({ type:'rect', z:-1, shape:{ x:p.frame[0], y:p.frame[1], width:p.frame[2], height:p.frame[3] }, style:{ fill:'#fff', stroke:'#d9d9d9', lineWidth:3 } });
  grid.push({ left:p.l, top:p.t, width:p.r - p.l, height:p.b - p.t });
  title.push({ text:titles[i], left:p.tx, top:p.ty - 9, padding:0, textAlign:'center', textStyle:{ fontFamily:font, fontSize:14.7, fontWeight:'normal', color:'#636363' } });

  const off = p.xnOff;
  xAxis.push({
    gridIndex:i, type:'value', min:50, max:110, interval:10,
    name:p.xn, nameLocation:'middle', nameGap:p.xnY - p.b - 5,
    nameTextStyle:{ fontFamily:font, fontSize:11.3, color:'#757575', padding: off < 0 ? [0,-2*off,0,0] : [0,0,0,2*off] },
    axisLine:{ show:false, onZero:false }, axisTick:{ show:false },
    axisLabel:{ fontFamily:font, fontSize:10, color:'#757575', margin:7 },
    splitLine:{ lineStyle:{ color:'#d9d9d9', width:1 } }
  });

  // zero gridline is a bit darker, like Excel's axis line
  const tickCount = (p.yMax - p.yMin) / p.yStep + 1;
  const zeroIdx = -p.yMin / p.yStep;
  const splitColors = [];
  for (let k = 0; k < tickCount; k++) splitColors.push(k === zeroIdx ? '#bfbfbf' : '#d9d9d9');
  yAxis.push({
    gridIndex:i, type:'value', min:p.yMin, max:p.yMax, interval:p.yStep,
    name:p.yn, nameLocation:'middle', nameGap:p.l - p.ynX - 6,
    nameTextStyle:{ fontFamily:font, fontSize:11.3, color:'#757575' },
    axisLine:{ show:false }, axisTick:{ show:false },
    axisLabel:{ fontFamily:font, fontSize:10, color:'#757575', margin:7 },
    splitLine:{ lineStyle:{ color:splitColors, width:1 } }
  });

  // lines first so the dots cover them
  const lim = limits[i];
  [4,5,6].forEach((s, n) => {
    series.push({
      name:seriesNames[s], type:'line', xAxisIndex:i, yAxisIndex:i, clip:false,
      data:[[50,lim[n]],[110,lim[n]]], symbol:'circle', symbolSize:7, showSymbol:true,
      itemStyle:{ color:colors[s] },
      lineStyle: s === 6 ? { color:'#000', width:2.5 } : { color:'#ff0000', width:2.5, type:[5,3] },
      emphasis:{ disabled:true }, z:2
    });
  });
  scatterData[i].forEach((d, s) => {
    series.push({
      name:seriesNames[s], type:'scatter', xAxisIndex:i, yAxisIndex:i,
      data:d, symbol:'circle', symbolSize:8, itemStyle:{ color:colors[s], opacity:1 },
      emphasis:{ disabled:true }, z:3
    });
  });

  // one legend per entry, Excel puts them in fixed slots and lets the text overflow
  p.slots.forEach((y, s) => {
    const label = p.labels[s];
    const twoLines = label.indexOf('\n') >= 0;
    const item = { name:seriesNames[s] };
    if (seriesNames[s] === 'Upper LOA' && p.upperLine === 'solid') item.lineStyle = { color:'#70ad47', type:'solid', width:1.5 };
    if (seriesNames[s] === 'Upper LOA' && p.upperLine === 'none') item.lineStyle = { opacity:0 };
    // scatter icons collapse to their own width, line icons keep the full one
    const w = s < 4 ? 7 : 30;
    legend.push({
      data:[item], selectedMode:false, orient:'vertical', padding:0,
      left:p.mx - w/2, top: twoLines ? y - lineH*1.5 : y - lineH/2,
      itemWidth:w, itemHeight: s < 4 ? 7 : 8, itemGap:0,
      formatter: () => twoLines ? ' \n' + label : label,
      textStyle:{ fontFamily:font, fontSize:9.7, color:'#757575', lineHeight:lineH, padding:[0,0,0,p.tx2 - p.mx - w/2 - 5] }
    });
  });
});

const chart = echarts.init(document.getElementById('chart'));
chart.setOption({
  animation:false,
  backgroundColor:'#fff',
  graphic:{ elements:graphic },
  title, legend, grid, xAxis, yAxis, series
});
</script>
</body>
</html>
